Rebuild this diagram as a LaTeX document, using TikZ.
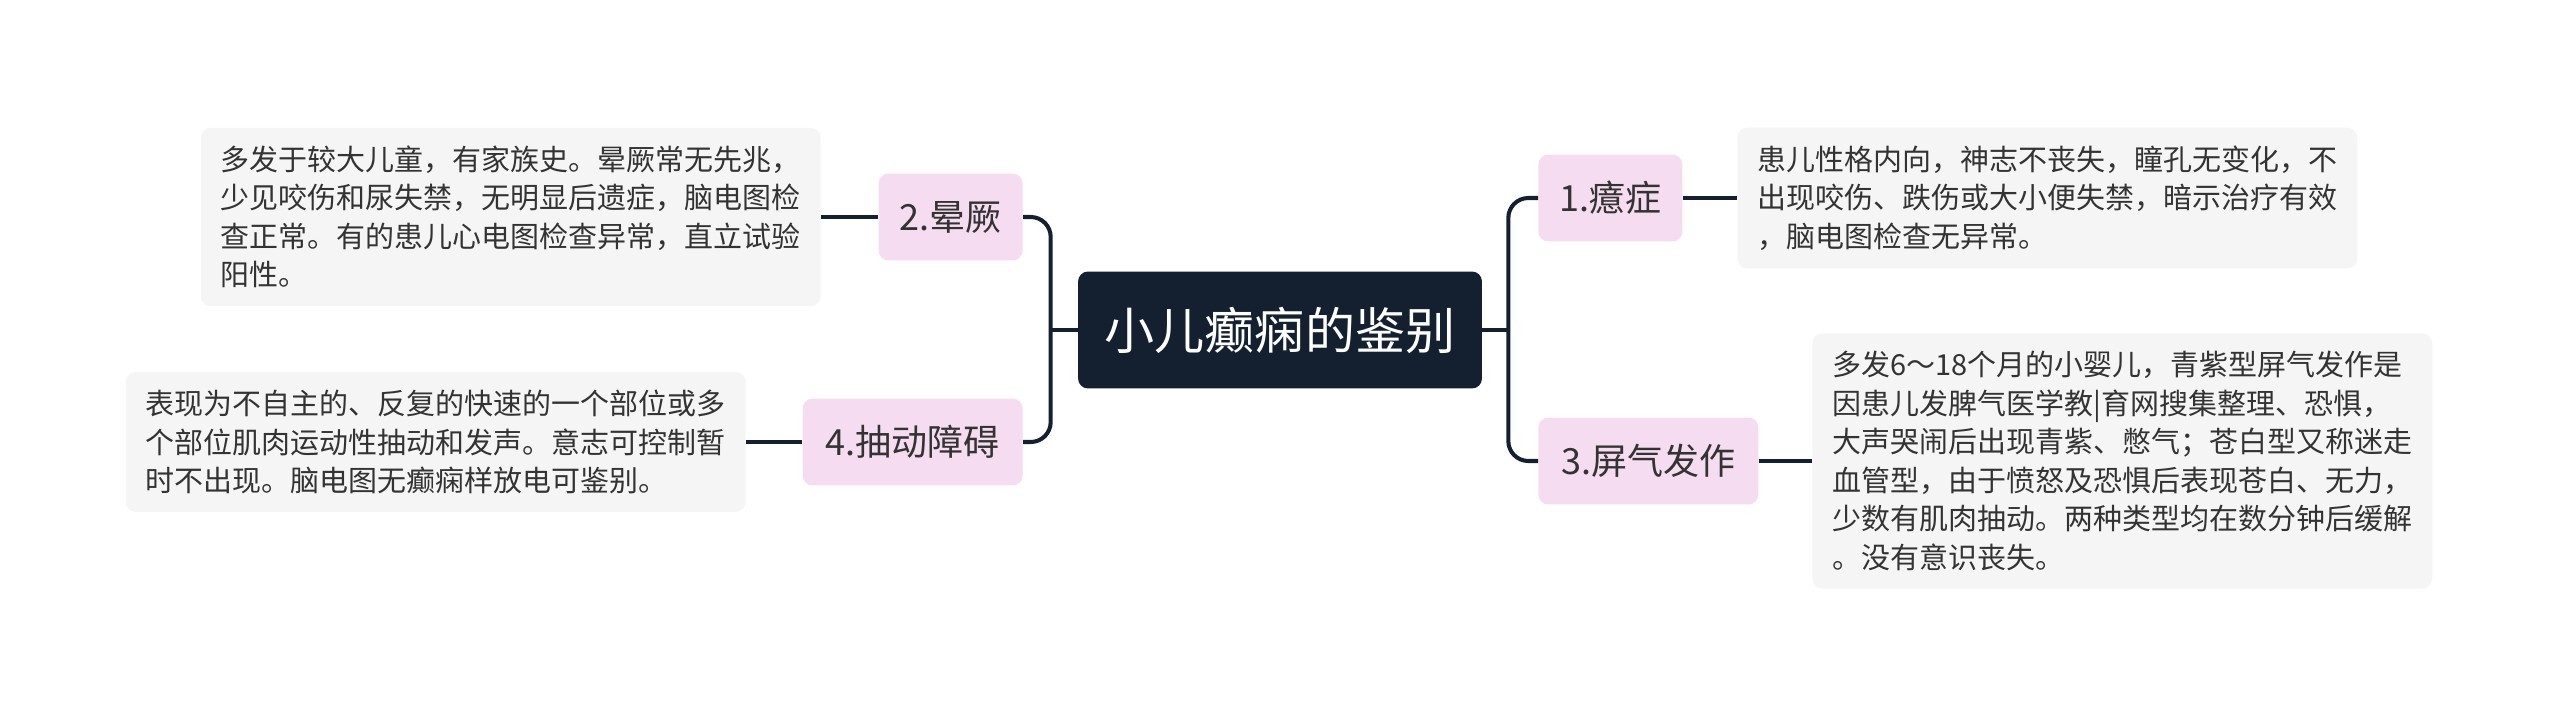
\documentclass[tikz,border=0pt]{standalone}
\usepackage{fontspec}
\setmainfont{Noto Sans CJK SC}
\definecolor{navy}{HTML}{14202F}
\definecolor{pinkfill}{HTML}{F6DCF0}
\definecolor{descfill}{HTML}{F5F5F5}
\definecolor{inkgray}{HTML}{333333}
\tikzset{
	rootbox/.style={rectangle, rounded corners=0.2cm, fill=navy, text=white,
		minimum width=8.08cm, minimum height=2.34cm,
		font=\fontsize{28.5}{32}\selectfont},
	branchbox/.style={rectangle, rounded corners=0.2cm, fill=pinkfill, text=inkgray,
		minimum height=1.74cm, inner xsep=0.42cm,
		font=\fontsize{20.5}{24}\selectfont},
	descbox/.style={rectangle, rounded corners=0.2cm, fill=descfill, text=inkgray,
		text width=11.6cm, align=left, inner xsep=0.4cm, inner ysep=0.36cm,
		font=\fontsize{16.5}{21.9}\selectfont},
	link/.style={draw=navy, line width=2.3pt, rounded corners=0.4cm}
}
\begin{document}
\begin{tikzpicture}[x=0.02cm, y=-0.02cm]
		\useasboundingbox (0,0) rectangle (2560,717);
		% centre
		\node[rootbox] (root) at (1280,330) {小儿癫痫的鉴别};
		% branches
		\node[branchbox, anchor=west] (b1) at (1538,198) {1.癔症};
		\node[branchbox, anchor=west, minimum width=4.4cm] (b3) at (1538,461) {3.屏气发作};
		\node[branchbox, anchor=east] (b2) at (1023,217) {2.晕厥};
		\node[branchbox, anchor=east, minimum width=4.4cm] (b4) at (1023,442) {4.抽动障碍};
		% details
		\node[descbox, anchor=west] (d1) at (1737,198) {患儿性格内向，神志不丧失，瞳孔无变化，不\\出现咬伤、跌伤或大小便失禁，暗示治疗有效\\，脑电图检查无异常。};
		\node[descbox, anchor=west] (d3) at (1812,461) {多发6～18个月的小婴儿，青紫型屏气发作是\\因患儿发脾气医学教|育网搜集整理、恐惧，\\大声哭闹后出现青紫、憋气；苍白型又称迷走\\血管型，由于愤怒及恐惧后表现苍白、无力，\\少数有肌肉抽动。两种类型均在数分钟后缓解\\。没有意识丧失。};
		\node[descbox, anchor=east] (d2) at (821,217) {多发于较大儿童，有家族史。晕厥常无先兆，\\少见咬伤和尿失禁，无明显后遗症，脑电图检\\查正常。有的患儿心电图检查异常，直立试验\\阳性。};
		\node[descbox, anchor=east] (d4) at (746,442) {表现为不自主的、反复的快速的一个部位或多\\个部位肌肉运动性抽动和发声。意志可控制暂\\时不出现。脑电图无癫痫样放电可鉴别。};
		% connectors
		\draw[link] (root.east) -- coordinate[pos=1] (rbus) ++(26,0);
		\draw[link] (rbus) |- (b1.west);
		\draw[link] (rbus) |- (b3.west);
		\draw[link] (root.west) -- coordinate[pos=1] (lbus) ++(-27,0);
		\draw[link] (lbus) |- (b2.east);
		\draw[link] (lbus) |- (b4.east);
		\draw[link] (b1.east) -- (d1.west);
		\draw[link] (b3.east) -- (d3.west);
		\draw[link] (b2.west) -- (d2.east);
		\draw[link] (b4.west) -- (d4.east);
	\end{tikzpicture}
\end{document}
